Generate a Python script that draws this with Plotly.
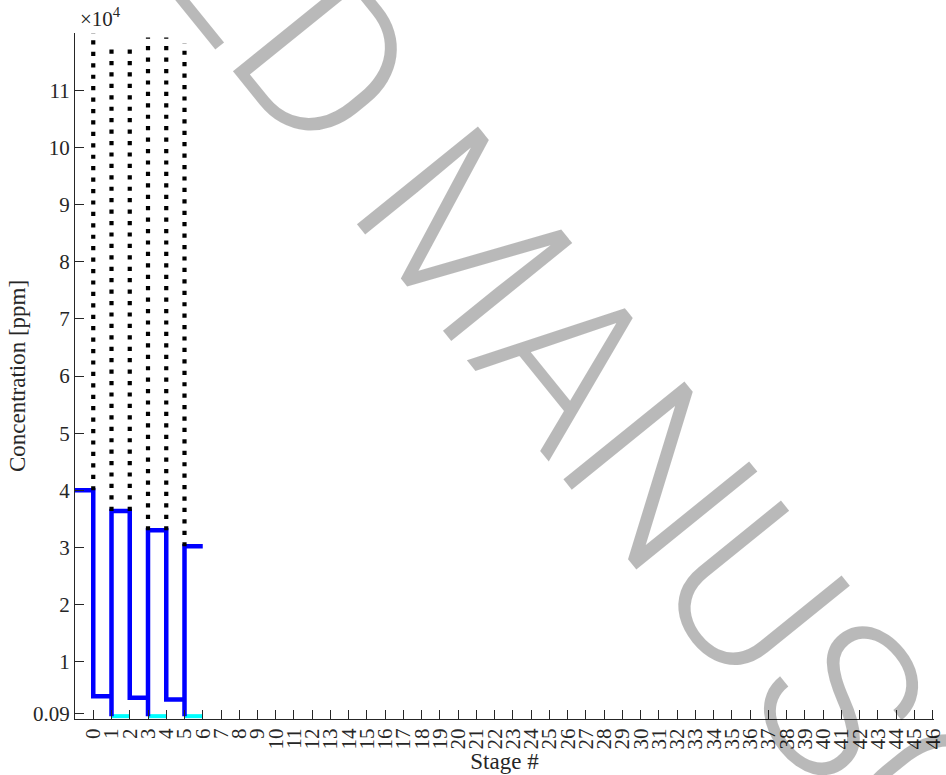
import plotly.graph_objects as go

# Stage axis tick labels
stages = list(range(0, 47))

# Blue concentration profile (step path through the stages)
step_stage = [-1, 0, 0, 1, 1, 1, 2, 2, 3, 3, 3, 4, 4, 5, 5, 5, 6]
step_conc = [40000, 40000, 4000, 4000, 500, 36400, 36400, 3700, 3700, 500,
             33000, 33000, 3400, 3400, 500, 30200, 30200]

# Cyan bottom segments
cyan_start = [1, 3, 5]
cyan_end = [2, 4, 6]
cyan_conc = [500, 500, 500]

# Black dotted verticals
dot_stage = [0, 1, 2, 3, 4, 5]
dot_low = [40000, 36400, 36400, 33000, 33000, 30200]
dot_high = [120000, 118400, 118400, 119200, 119200, 118200]

# Y ticks (values in ppm, labels in units of 10^4)
ytick_vals = [900, 10000, 20000, 30000, 40000, 50000, 60000, 70000,
              80000, 90000, 100000, 110000]
ytick_text = ["0.09", "1", "2", "3", "4", "5", "6", "7", "8", "9", "10", "11"]

AX = "#262626"
SERIF = "Liberation Serif"

fig = go.Figure()

cx, cy = [], []
for a, b, c in zip(cyan_start, cyan_end, cyan_conc):
    cx += [a, b, None]
    cy += [c, c, None]
fig.add_trace(go.Scatter(x=cx, y=cy, mode="lines",
                         line=dict(color="#00FFFF", width=4),
                         hoverinfo="skip", showlegend=False))

fig.add_trace(go.Scatter(x=step_stage, y=step_conc, mode="lines",
                         line=dict(color="#0000FF", width=4.5),
                         hoverinfo="skip", showlegend=False))

for s, lo, hi in zip(dot_stage, dot_low, dot_high):
    fig.add_trace(go.Scatter(x=[s, s], y=[lo, hi], mode="lines",
                             line=dict(color="black", width=4.2,
                                       dash="4.2px,7.23px"),
                             hoverinfo="skip", showlegend=False))

fig.update_layout(
    width=946, height=775,
    margin=dict(l=75, r=1, t=33, b=56),
    plot_bgcolor="white", paper_bgcolor="white",
    font=dict(family=SERIF, size=21, color=AX),
    xaxis=dict(
        range=[-1, 46.07], tickmode="array", tickvals=stages,
        ticktext=[str(s) for s in stages], tickangle=-90,
        ticks="inside", ticklen=9, tickcolor=AX, tickwidth=1,
        showline=True, linecolor=AX, linewidth=1,
        showgrid=False, zeroline=False, ticklabeloverflow="allow",
        tickfont=dict(family=SERIF, size=21, color=AX),
        title=dict(text="Stage #", font=dict(family=SERIF, size=23, color=AX),
                   standoff=0),
    ),
    yaxis=dict(
        range=[0, 120000], tickmode="array", tickvals=ytick_vals,
        ticktext=ytick_text,
        ticks="inside", ticklen=9, tickcolor=AX, tickwidth=1,
        showline=True, linecolor=AX, linewidth=1,
        showgrid=False, zeroline=False,
        tickfont=dict(family=SERIF, size=21, color=AX),
        title=dict(text="Concentration [ppm]",
                   font=dict(family=SERIF, size=23, color=AX), standoff=0),
    ),
    annotations=[
        dict(text="×10<sup>4</sup>", xref="paper", yref="paper",
             x=0.003, y=1.0, xanchor="left", yanchor="bottom",
             showarrow=False, font=dict(family=SERIF, size=21, color=AX)),
        dict(text="ACCEPTED MANUSCRIPT", xref="paper", yref="paper",
             x=0.4667, y=0.681, xanchor="center", yanchor="middle",
             textangle=51, showarrow=False,
             font=dict(family="Roboto", size=219, weight=300,
                       color="rgba(0,0,0,0.275)")),
    ],
)

fig.write_html("out.html")
